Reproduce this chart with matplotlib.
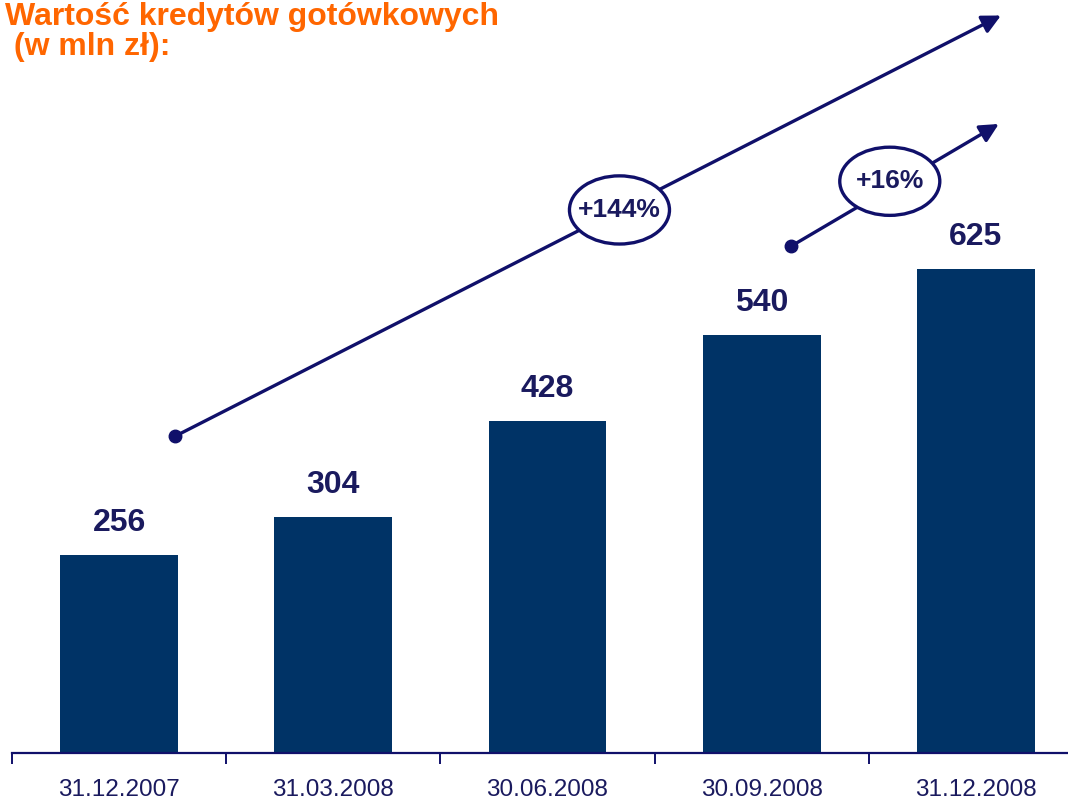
import matplotlib.pyplot as plt
from matplotlib.patches import Ellipse

plt.rcParams['font.family'] = ['Liberation Sans', 'DejaVu Sans']

# data
dates = ["31.12.2007", "31.03.2008", "30.06.2008", "30.09.2008", "31.12.2008"]
values = [256, 304, 428, 540, 625]
growth_labels = ["+144%", "+16%"]

bar_color = '#003366'
navy = '#10106a'
text_navy = '#1a1a5e'
orange = '#ff6600'

fig = plt.figure(figsize=(10.68, 8.02), dpi=100)
ax = fig.add_axes([12 / 1068, 49 / 802, 1056 / 1068, 753 / 802])

x = range(len(values))
ax.bar(x, values, width=0.55, color=bar_color, zorder=2)
for xi, v in zip(x, values):
    ax.text(xi, v + 22, str(v), ha='center', va='bottom', fontsize=23,
            fontweight='bold', color=text_navy)

ax.set_xlim(-0.5, 4.43)
ax.set_ylim(0, 972)

# axis styling
for s in ['top', 'left', 'right']:
    ax.spines[s].set_visible(False)
ax.spines['bottom'].set_color(navy)
ax.spines['bottom'].set_linewidth(1.6)
ax.set_yticks([])
ax.set_xticks(list(x))
ax.set_xticklabels(dates, fontsize=17.5, color=text_navy)
ax.tick_params(axis='x', which='major', length=0, pad=19)
ax.set_xticks([-0.5, 0.5, 1.5, 2.5, 3.5], minor=True)
ax.tick_params(axis='x', which='minor', length=8, width=1.4, color=navy)


def growth_arrow(start, end, center, label):
    ax.annotate('', xy=end, xytext=start,
                arrowprops=dict(arrowstyle='-|>', color=navy, lw=2.4,
                                mutation_scale=28, shrinkA=0, shrinkB=0),
                zorder=3)
    ax.plot(*start, marker='o', markersize=9, color=navy, zorder=4)
    ax.add_patch(Ellipse(center, 0.467, 88, facecolor='white',
                         edgecolor=navy, lw=2.4, zorder=5))
    ax.text(center[0], center[1], label, ha='center', va='center',
            fontsize=19, fontweight='bold', color=text_navy, zorder=6)


growth_arrow((0.262, 409), (4.117, 952), (2.336, 701), growth_labels[0])
growth_arrow((3.136, 654), (4.107, 812), (3.598, 738), growth_labels[1])

fig.text(5 / 1068, 1 - 2 / 802, "Wartość kredytów gotówkowych\n (w mln zł):",
         ha='left', va='top', fontsize=23, fontweight='bold', color=orange,
         linespacing=1.0)

fig.savefig('out.png', dpi=100)
